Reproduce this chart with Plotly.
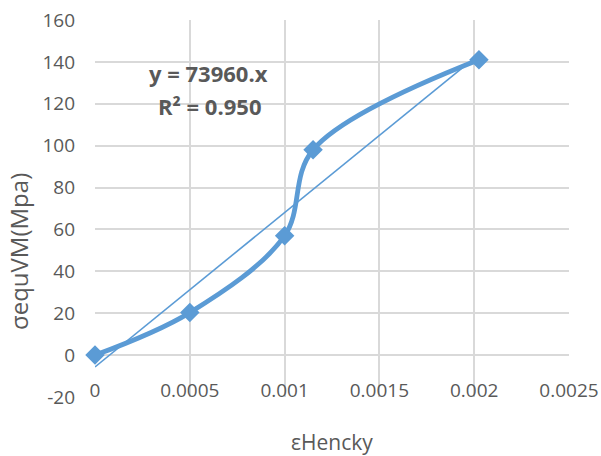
import numpy as np
import plotly.graph_objects as go

# Hencky strain vs. equivalent von Mises stress
strain = [0.0, 0.0005, 0.001, 0.00115, 0.002025]
stress = [0.0, 20.3, 57.0, 98.0, 141.0]

x_tickvals = [0, 0.0005, 0.001, 0.0015, 0.002, 0.0025]
x_ticktext = ["0", "0.0005", "0.001", "0.0015", "0.002", "0.0025"]
y_tickvals = [-20, 0, 20, 40, 60, 80, 100, 120, 140, 160]
y_ticktext = ["-20", "0", "20", "40", "60", "80", "100", "120", "140", "160"]

eq_text = "y = 73960.x"
r2_text = "R² = 0.950"
x_title = "εHencky"
y_title = "σequVM(Mpa)"

BLUE = "#5B9BD5"
GRID = "#D9D9D9"
TXT = "#595959"
FONT = "Open Sans, Roboto, sans-serif"

# linear trend line over the measured points
slope, intercept = np.polyfit(strain, stress, 1)
trend_x = np.array([0.0, max(strain)])
trend_y = slope * trend_x + intercept

fig = go.Figure()
fig.add_trace(go.Scatter(
    x=trend_x, y=trend_y, mode="lines",
    line=dict(color=BLUE, width=1.6),
    hoverinfo="skip", showlegend=False,
))
fig.add_trace(go.Scatter(
    x=strain, y=stress, mode="lines+markers",
    line=dict(color=BLUE, width=4.8, shape="spline", smoothing=1.0),
    marker=dict(symbol="diamond", size=15, color=BLUE),
    cliponaxis=False, showlegend=False,
))

# trend equation labels
fig.add_annotation(x=0.000597, y=134.7, xref="x", yref="y", text=f"<b>{eq_text}</b>",
                   showarrow=False, font=dict(family=FONT, size=22, color=TXT))
fig.add_annotation(x=0.000602, y=119, xref="x", yref="y", text=f"<b>{r2_text}</b>",
                   showarrow=False, font=dict(family=FONT, size=22, color=TXT))

# axis titles, given in pixels and converted to paper fractions below
fig.add_annotation(x=332, y=442, xref="paper", yref="paper", text=x_title,
                   xanchor="center", yanchor="middle",
                   showarrow=False, font=dict(family=FONT, size=21, color=TXT))
fig.add_annotation(x=18, y=252, xref="paper", yref="paper", text=y_title, textangle=-90,
                   xanchor="center", yanchor="middle",
                   showarrow=False, font=dict(family=FONT, size=24, color=TXT))

W, H = 601, 456
L, R, T, B = 95, 32, 20, 59
pw, ph = W - L - R, H - T - B
for ann in fig.layout.annotations[2:]:
    ann.x = (ann.x - L) / pw
    ann.y = (H - B - ann.y) / ph

fig.update_layout(
    width=W, height=H,
    margin=dict(l=L, r=R, t=T, b=B, autoexpand=False),
    paper_bgcolor="white", plot_bgcolor="white",
    font=dict(family=FONT, color=TXT, size=19),
    xaxis=dict(
        range=[0, 0.0025], tickvals=x_tickvals, ticktext=x_ticktext,
        showgrid=True, gridcolor=GRID, gridwidth=2, zeroline=False,
        showline=False, ticks="", anchor="free", position=0.052,
        automargin=False, tickfont=dict(size=19, color=TXT),
    ),
    yaxis=dict(
        range=[-20, 160], tickvals=y_tickvals, ticktext=y_ticktext,
        showgrid=True, gridcolor=GRID, gridwidth=2, zeroline=False,
        showline=False, ticks="", ticklabelstandoff=19, automargin=False,
        tickfont=dict(size=19, color=TXT),
    ),
)

fig.write_html("out.html")
